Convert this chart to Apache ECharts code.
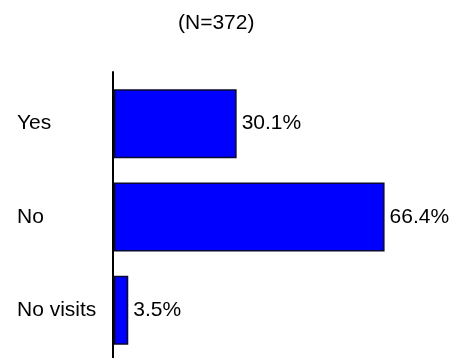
<!DOCTYPE html>
<html>
<head>
<meta charset="utf-8">
<script src="https://cdn.jsdelivr.net/npm/echarts@6/dist/echarts.min.js"></script>
<style>html,body{margin:0;padding:0;background:#fff}#c{width:457px;height:358px}</style>
</head>
<body>
<div id="c"></div>
<script>
var titleText = '(N=372)';
var categories = ['Yes', 'No', 'No visits'];
var values = [30.1, 66.4, 3.5];

var FONT = "'Liberation Sans', Arial, sans-serif";
var chart = echarts.init(document.getElementById('c'), null, {renderer: 'canvas'});
chart.setOption({
  animation: false,
  backgroundColor: '#fff',
  title: {
    text: titleText, left: 173, top: 8,
    textStyle: {fontFamily: FONT, fontSize: 21, fontWeight: 'normal', color: '#000'}
  },
  grid: [
    {left: 114, right: 17, top: 77, bottom: 1},
    {left: 113, width: 10, top: 72, bottom: -10}
  ],
  xAxis: [
    {gridIndex: 0, type: 'value', min: 0, max: 80, show: false},
    {gridIndex: 1, type: 'value', min: 0, max: 1, show: false}
  ],
  yAxis: [
    {
      gridIndex: 0, type: 'category', data: categories, inverse: true,
      axisLine: {show: false}, axisTick: {show: false},
      axisLabel: {margin: 97, align: 'left', fontFamily: FONT, fontSize: 21, color: '#000'}
    },
    {
      gridIndex: 1, type: 'value', min: 0, max: 1,
      axisLine: {show: true, onZero: false, lineStyle: {color: '#000', width: 2}},
      axisTick: {show: false}, axisLabel: {show: false}, splitLine: {show: false}
    }
  ],
  series: [{
    type: 'bar', xAxisIndex: 0, yAxisIndex: 0,
    data: values, barWidth: '74%',
    itemStyle: {color: '#0000ff', borderColor: '#0a0a30', borderWidth: 1.5},
    label: {
      show: true, position: 'right', distance: 5,
      formatter: function (p) { return p.value.toFixed(1) + '%'; },
      fontFamily: FONT, fontSize: 21, color: '#000'
    }
  }]
});
</script>
</body>
</html>
